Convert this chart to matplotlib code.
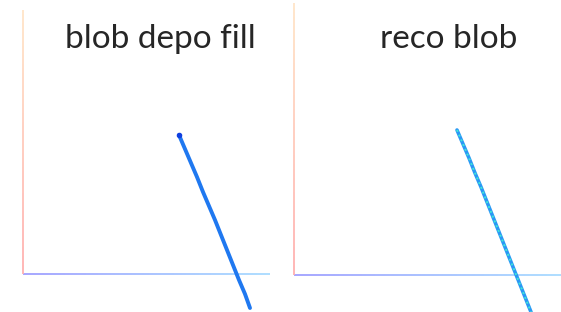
import numpy as np
import matplotlib
matplotlib.use('Agg')
import matplotlib.pyplot as plt
from matplotlib.collections import LineCollection
from matplotlib.colors import LinearSegmentedColormap

# track points (projected, arbitrary units)
depo_x = [156, 162, 168, 174, 180, 186, 192, 198, 204, 210, 216, 222, 227]
depo_y = [139, 125, 111, 97, 82, 68, 54, 39, 24, 9, -6, -20, -34]

reco_x = [163, 169, 175, 181, 187, 193, 199, 205, 211, 217, 223, 229, 237]
reco_y = [145, 131, 117, 102, 88, 73, 58, 43, 28, 13, -2, -17, -37]

titles = ['blob depo fill', 'reco blob']

W, H = 561, 312
fig = plt.figure(figsize=(W / 100, H / 100), dpi=100)

# axes boxes in pixels: left, origin y from top, width, height
boxes = [(23, 274, 247, 264), (294, 275, 267, 272)]

xcmap = LinearSegmentedColormap.from_list('xax', ['#9f9fff', '#a8dcff'])
ycmap = LinearSegmentedColormap.from_list('yax', ['#ffb0b0', '#ffe6c8'])


def gradient_line(ax, x0, y0, x1, y1, cmap):
    t = np.linspace(0, 1, 60)
    xs = x0 + (x1 - x0) * t
    ys = y0 + (y1 - y0) * t
    pts = np.array([xs, ys]).T.reshape(-1, 1, 2)
    segs = np.concatenate([pts[:-1], pts[1:]], axis=1)
    lc = LineCollection(segs, colors=cmap(t[:-1]), linewidths=1.3, clip_on=False)
    ax.add_collection(lc)


axes = []
for (px, py, pw, ph), title in zip(boxes, titles):
    ax = fig.add_axes([px / W, (H - py) / H, pw / W, ph / H])
    ax.set_xlim(0, pw)
    ax.set_ylim(0, ph)
    ax.axis('off')
    gradient_line(ax, 0, 0, pw, 0, xcmap)
    gradient_line(ax, 0, 0, 0, ph, ycmap)
    axes.append(ax)

ax1, ax2 = axes
ax1.plot(depo_x, depo_y, '-', color='#1f78f0', lw=2.8, solid_capstyle='round', clip_on=False)
ax1.plot(depo_x[:1], depo_y[:1], 'o', color='#1040e0', ms=3, clip_on=False)

ax2.plot(reco_x, reco_y, '-', color='#2a98f5', lw=2.6, solid_capstyle='round', clip_on=False)
ax2.plot(reco_x, reco_y, ':', color='#3ee6d6', lw=1.4, clip_on=False)

fig.text(160 / W, 1 - 39 / H, titles[0], ha='center', va='center',
         fontsize=24, family='Lato', fontweight='normal', color='#262626')
fig.text(449 / W, 1 - 39 / H, titles[1], ha='center', va='center',
         fontsize=24, family='Lato', fontweight='normal', color='#262626')

fig.savefig('out.png', dpi=100, facecolor='white')
